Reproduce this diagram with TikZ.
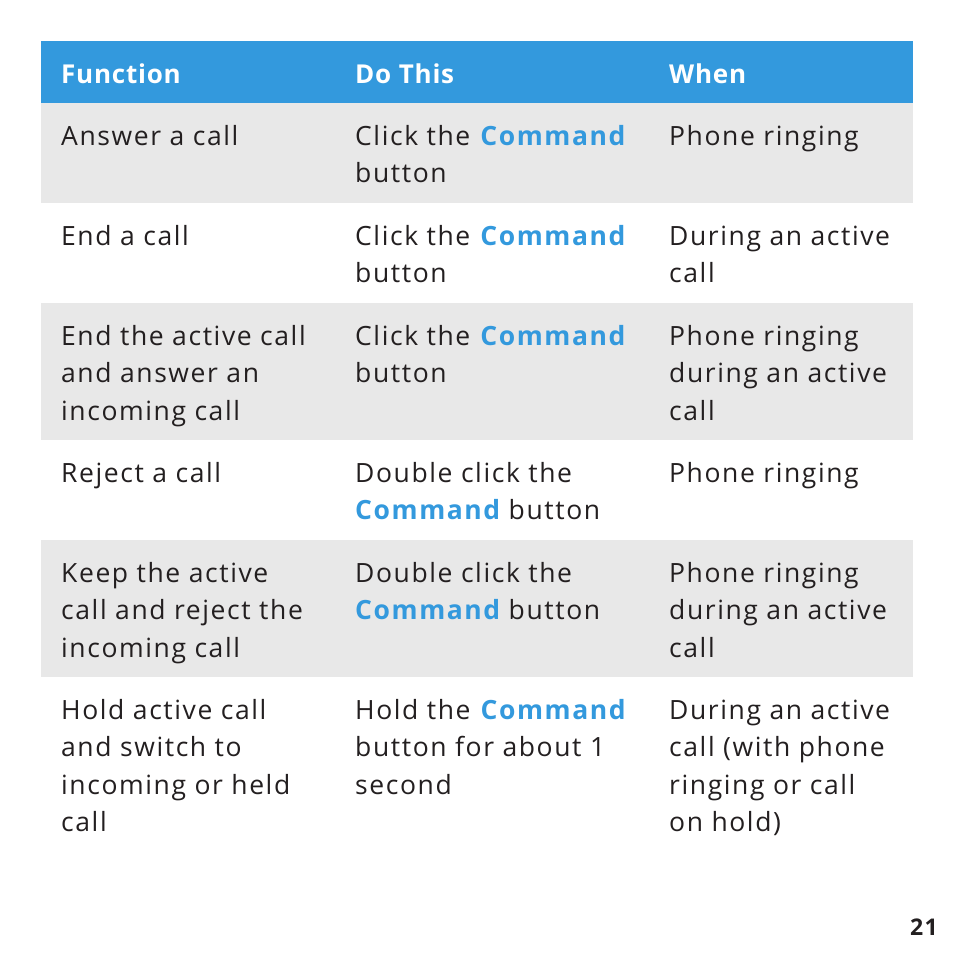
\documentclass[tikz,border=0pt]{standalone}
\usepackage{fontspec}
\setmainfont{Open Sans}[Ligatures=NoCommon,LetterSpace=6]
\definecolor{hdr}{HTML}{3399DD}
\definecolor{rowg}{HTML}{E8E8E8}
\definecolor{txt}{HTML}{231F20}
\newcommand{\cmd}{\textbf{\textcolor{hdr}{Command}}}
\begin{document}
\begin{tikzpicture}[x=1pt,y=-1pt,
  cell/.style={anchor=north west,inner sep=0pt,align=left,text=txt,font=\fontsize{26.5}{37.5}\selectfont},
  head/.style={anchor=base west,inner sep=0pt,text=white,font=\fontsize{26}{32}\selectfont\bfseries\addfontfeature{LetterSpace=3}}]
\useasboundingbox (0,0) rectangle (954,954);
\fill[hdr] (41,41) rectangle (913,103);
\fill[rowg] (41,103) rectangle (913,203);
\fill[rowg] (41,303) rectangle (913,440);
\fill[rowg] (41,540) rectangle (913,677);
\node[head] (h1) at (61,83) {Function};
\node[head] (h2) at (355,83) {Do This};
\node[head] (h3) at (669,83) {When};
\node[cell] (a1) at (61,119) {\strut Answer a call};
\node[cell] (b1) at (355,119) {\strut Click the \cmd\\button};
\node[cell] (c1) at (669,119) {\strut Phone ringing};
\node[cell] (a2) at (61,219) {\strut End a call};
\node[cell] (b2) at (355,219) {\strut Click the \cmd\\button};
\node[cell] (c2) at (669,219) {\strut During an active\\call};
\node[cell] (a3) at (61,319) {\strut End the active call\\and answer an\\incoming call};
\node[cell] (b3) at (355,319) {\strut Click the \cmd\\button};
\node[cell] (c3) at (669,319) {\strut Phone ringing\\during an active\\call};
\node[cell] (a4) at (61,456) {\strut Reject a call};
\node[cell] (b4) at (355,456) {\strut Double click the\\\cmd{} button};
\node[cell] (c4) at (669,456) {\strut Phone ringing};
\node[cell] (a5) at (61,556) {\strut Keep the active\\call and reject the\\incoming call};
\node[cell] (b5) at (355,556) {\strut Double click the\\\cmd{} button};
\node[cell] (c5) at (669,556) {\strut Phone ringing\\during an active\\call};
\node[cell] (a6) at (61,693) {\strut Hold active call\\and switch to\\incoming or held\\call};
\node[cell] (b6) at (355,693) {\strut Hold the \cmd\\button for about 1\\second};
\node[cell] (c6) at (669,693) {\strut During an active\\call (with phone\\ringing or call\\on hold)};
\node[anchor=base east,inner sep=0pt,text=txt,font=\fontsize{23}{28}\selectfont\bfseries] (pg) at (938,935) {21};
\end{tikzpicture}
\end{document}
